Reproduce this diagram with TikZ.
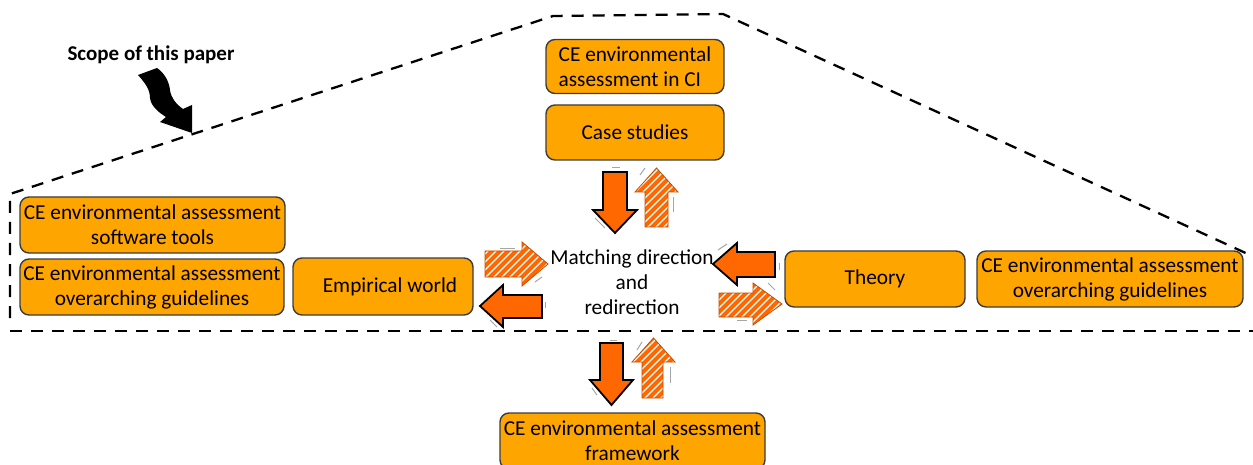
\documentclass[tikz,border=0pt]{standalone}
\usepackage{fontspec}
\setmainfont{Carlito}
\definecolor{boxfill}{RGB}{255,165,0}
\definecolor{arrfill}{RGB}{255,104,0}
\definecolor{boxline}{RGB}{60,60,60}
\newcommand\myhatched[1]{%
  \fill[arrfill] #1;
  \begin{scope}
    \clip #1;
    \foreach \k in {170,178,...,740} \draw[white, line width=1.3pt] (\k,465) -- ++(465,-465);
  \end{scope}
  \draw[arrfill!75!black, line width=0.8pt] #1;}
\begin{document}
\begin{tikzpicture}[x=1pt,y=-1pt,
  box/.style={draw=boxline, line width=1.4pt, fill=boxfill, rounded corners=9pt, inner sep=0pt, align=center, font=\fontsize{21.3}{25}\selectfont},
  solidarrow/.style={fill=arrfill, draw=black, line width=1.8pt, line join=miter},
  scopeline/.style={draw=black, line width=2.3pt, dash pattern=on 12pt off 9pt},
  ghost/.style={draw=gray!70, line width=1pt}]
\useasboundingbox (0,0) rectangle (1253,465);

% dashed scope outline
\draw[scopeline] (10,318) -- (10,194) -- (553,16) -- (723,14) -- (1250,255);
\draw[scopeline] (10,331) -- (1253,331);

% scope label and black curved arrow
\node[font=\fontsize{21}{25}\selectfont\bfseries] (scope) at (151,55) {Scope of this paper};
\fill[black] (138,75) .. controls (146,84) and (150,90) .. (150,98) .. controls (151,106) and (158,112) .. (166,117) -- (160,122) -- (192,133) -- (192,105) -- (183,109) .. controls (176,104) and (171,98) .. (170,90) .. controls (169,80) and (163,72) .. (157,68) -- cycle;

% boxes
\node[box, minimum width=178pt, minimum height=54pt, align=left] (ci) at (635,66.5) {CE environmental\\assessment in CI};
\node[box, minimum width=178pt, minimum height=55pt] (cs) at (635,132.5) {Case studies};
\node[box, minimum width=265pt, minimum height=56pt] (sw) at (152.5,225) {CE environmental assessment\\software tools};
\node[box, minimum width=264pt, minimum height=56pt] (gl) at (152,287) {CE environmental assessment\\overarching guidelines};
\node[box, minimum width=180pt, minimum height=57pt] (emp) at (383,286.5) {\hspace{14pt}Empirical world};
\node[box, minimum width=180pt, minimum height=56pt] (th) at (875,279) {Theory};
\node[box, minimum width=266pt, minimum height=56pt] (gr) at (1110,279) {CE environmental assessment\\overarching guidelines};
\node[box, minimum width=265pt, minimum height=56pt] (fw) at (632.5,441) {CE environmental assessment\\framework};

% centre text
\node[align=center, font=\fontsize{21.3}{25}\selectfont] (mid) at (632,282) {Matching direction\\and\\redirection};

% top pair
\draw[solidarrow] (603,172) -- (627,172) -- (627,210) -- (637,210) -- (615,233) -- (593,210) -- (603,210) -- cycle;
\myhatched{(645,227) -- (668,227) -- (668,192) -- (678,192) -- (656.5,168) -- (635,192) -- (645,192) -- cycle}
% left pair
\myhatched{(485,251) -- (522,251) -- (522,242) -- (548,264) -- (522,286) -- (522,277) -- (485,277) -- cycle}
\draw[solidarrow] (542,295) -- (503,295) -- (503,285) -- (480,306) -- (503,327) -- (503,318) -- (542,318) -- cycle;
% right pair
\draw[solidarrow] (775,252) -- (737,252) -- (737,243) -- (713,264) -- (737,285) -- (737,277) -- (775,277) -- cycle;
\myhatched{(719,293) -- (753,293) -- (753,283) -- (782,304) -- (753,325) -- (753,317) -- (719,317) -- cycle}
% bottom pair
\draw[solidarrow] (600,343) -- (623,343) -- (623,380) -- (633,380) -- (611.5,405) -- (590,380) -- (600,380) -- cycle;
\myhatched{(642,398) -- (663,398) -- (663,362) -- (675,362) -- (653.5,338) -- (632,362) -- (642,362) -- cycle}

% faint shadow ticks
\draw[ghost] (612,168) -- (620,168);
\draw[ghost] (595,218) -- (605,228);
\draw[ghost] (640,175) -- (645,168);
\draw[ghost] (673,197) -- (673,212);
\draw[ghost] (500,249) -- (515,249);
\draw[ghost] (535,282) -- (542,277);
\draw[ghost] (545,302) -- (545,308);
\draw[ghost] (490,320) -- (497,327);
\draw[ghost] (718,250) -- (727,244);
\draw[ghost] (779,263) -- (779,270);
\draw[ghost] (768,283) -- (775,290);
\draw[ghost] (737,320) -- (747,320);
\draw[ghost] (610,340) -- (617,340);
\draw[ghost] (592,388) -- (597,395);
\draw[ghost] (637,350) -- (642,342);
\draw[ghost] (670,367) -- (670,383);
\end{tikzpicture}
\end{document}
